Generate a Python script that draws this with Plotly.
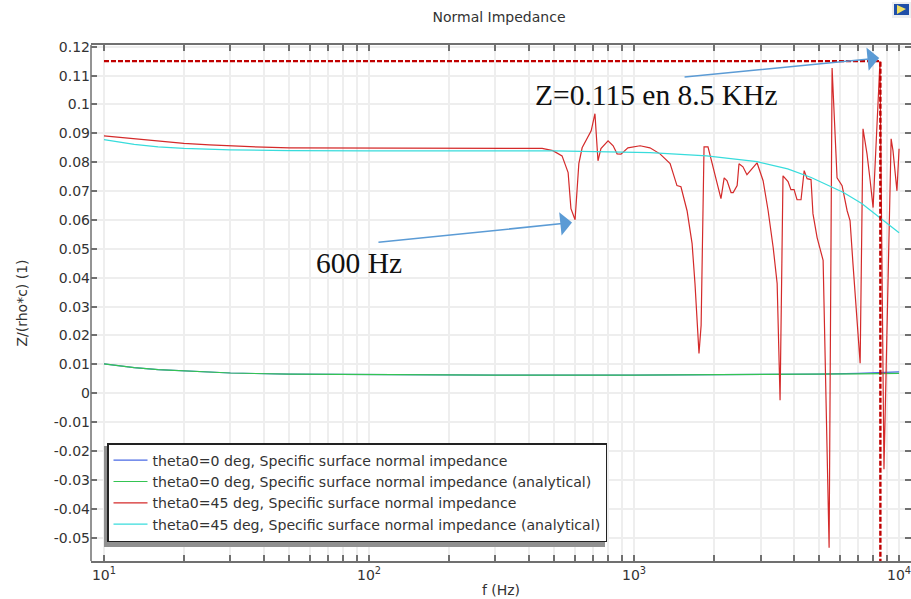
import plotly.graph_objects as go

# ---- data ----
f_red = [10, 13, 16, 20, 25, 30, 40, 50, 70, 100, 150, 200, 300, 400, 450, 494, 535, 564, 578, 599, 619, 637, 665, 689, 712,
         731, 750, 798, 834, 863, 893, 948, 1054, 1148, 1253, 1368, 1452, 1503, 1585, 1656, 1698, 1758, 1791, 1837, 1901,
         1968, 2056, 2128, 2188, 2244, 2323, 2366, 2449, 2489, 2576, 2667, 2911, 3069, 3206, 3350, 3467, 3556, 3648, 3811,
         3908, 4016, 4121, 4266, 4385, 4498, 4653, 4732, 4906, 5169, 5445, 5588, 5834, 6095, 6368, 6531, 6699, 6887, 7130,
         7311, 7568, 7780, 7980, 8472, 8770, 9333, 9484, 9817, 10000]
z_red = [0.0891, 0.0881, 0.0872, 0.0865, 0.086, 0.0856, 0.0852, 0.085, 0.085, 0.085, 0.085, 0.085, 0.085, 0.085, 0.0848, 0.084, 0.0822, 0.0764, 0.0639, 0.0601, 0.0795, 0.085, 0.0885, 0.0909, 0.0968,
         0.0805, 0.0847, 0.0874, 0.0857, 0.0829, 0.0828, 0.085, 0.0857, 0.085, 0.0829, 0.0795, 0.0719, 0.0715, 0.0632, 0.0518, 0.038, 0.0138, 0.0235, 0.0853, 0.0853,
         0.0798, 0.0736, 0.0674, 0.0746, 0.0736, 0.0695, 0.0695, 0.0719, 0.0795, 0.0784, 0.0757, 0.0798, 0.0736, 0.0632, 0.0504, 0.038, -0.0024, 0.0753, 0.0733,
         0.0705, 0.0705, 0.067, 0.067, 0.0771, 0.0743, 0.074, 0.0622, 0.0539, 0.046, -0.0535, 0.1126, 0.0746, 0.0719, 0.0632, 0.0598, 0.0449, 0.0287, 0.0104,
         0.0916, 0.0829, 0.0736, 0.0643, 0.115, -0.0263, 0.0881, 0.084, 0.0701, 0.0847]
f_cyan = [10, 13, 16, 20, 30, 50, 100, 300, 500, 1148, 1880, 2911, 3800, 4660, 6170, 7230, 8470, 10000]
z_cyan = [0.0878, 0.0862, 0.0853, 0.0848, 0.0843, 0.084, 0.0839, 0.0839, 0.0839, 0.0833, 0.0822, 0.0802, 0.0777, 0.0747, 0.0695, 0.0657, 0.0608, 0.0556]
f_low = [10, 13, 16, 20, 30, 50, 100, 300, 1000, 3000, 5000, 7000, 10000]
z_blue = [0.0102, 0.0089, 0.0082, 0.0077, 0.007, 0.0066, 0.0064, 0.0063, 0.0063, 0.0064, 0.0066, 0.0069, 0.0074]
z_green = [0.0102, 0.0089, 0.0082, 0.0077, 0.007, 0.0066, 0.0064, 0.0063, 0.0063, 0.0064, 0.0065, 0.0067, 0.0069]
names = ["theta0=0 deg, Specific surface normal impedance",
         "theta0=0 deg, Specific surface normal impedance (analytical)",
         "theta0=45 deg, Specific surface normal impedance",
         "theta0=45 deg, Specific surface normal impedance (analytical)"]
ref_f = [10, 8500, 8500]
ref_z = [0.115, 0.115, -0.0581]
y_ticks = [0.12, 0.11, 0.1, 0.09, 0.08, 0.07, 0.06, 0.05, 0.04, 0.03, 0.02, 0.01, 0,
           -0.01, -0.02, -0.03, -0.04, -0.05]
y_labels = ["0.12", "0.11", "0.1", "0.09", "0.08", "0.07", "0.06", "0.05", "0.04", "0.03", "0.02", "0.01", "0",
            "-0.01", "-0.02", "-0.03", "-0.04", "-0.05"]
x_major = [10, 100, 1000, 10000]
x_labels = ["10<sup>1</sup>", "10<sup>2</sup>", "10<sup>3</sup>", "10<sup>4</sup>"]
x_minor = [m * d for d in (10, 100, 1000) for m in range(2, 10)]

W, H = 911, 599
L, R, T, B = 91, 911, 45, 561
px = lambda x: (x - L) / (R - L)
py = lambda y: (B - y) / (B - T)
FONT = "DejaVu Sans"
TXT = "#333333"
GRID = "#eeeeee"

fig = go.Figure()
colors = ["#4a6ae4", "#34c452", "#d42a2a", "#38dcdc"]
series = [(f_low, z_blue), (f_low, z_green), (f_red, z_red), (f_cyan, z_cyan)]
for i, ((xs, ys), c, n) in enumerate(zip(series, colors, names)):
    fig.add_trace(go.Scatter(x=xs, y=ys, mode="lines", name=n, legendgroup=f"g{i}",
                             line=dict(color=c, width=1.2)))
fig.add_trace(go.Scatter(x=ref_f, y=ref_z, mode="lines", showlegend=False,
                         line=dict(color="#c00000", width=2.4, dash="5px,2px")))

axis_common = dict(linecolor="#707070", linewidth=1.5, mirror="ticks", ticks="inside",
                   ticklen=6, tickcolor="#707070", tickwidth=1.5, gridcolor=GRID, gridwidth=1.5,
                   zeroline=False, ticklabeloverflow="allow",
                   tickfont=dict(family=FONT, size=14, color=TXT))
fig.update_xaxes(type="log", range=[0.951, 4.045], tickmode="array", tickvals=x_major, ticktext=x_labels,
                 showline=True,
                 title=dict(text="f (Hz)", font=dict(family=FONT, size=14, color=TXT), standoff=4),
                 minor=dict(tickmode="array", tickvals=x_minor, ticks="inside", ticklen=6, tickcolor="#707070",
                            showgrid=True, gridcolor=GRID, gridwidth=1.5),
                 **axis_common)
# the reference has ticks but no spine on the right, so the left spine is a separate line
fig.update_yaxes(range=[-0.0581, 0.1206], tickmode="array", tickvals=y_ticks, ticktext=y_labels,
                 showline=False,
                 title=dict(text="Z/(rho*c) (1)", font=dict(family=FONT, size=14, color=TXT), standoff=22),
                 **axis_common)
fig.add_shape(type="line", xref="paper", yref="paper", x0=0, x1=0, y0=0, y1=1,
              line=dict(color="#707070", width=1.5), layer="above")

arrow = dict(xref="x", yref="y", axref="x", ayref="y", text="", showarrow=True, arrowhead=1,
             arrowsize=2.6, arrowwidth=1.5, arrowcolor="#5b9bd5")
fig.add_annotation(x=2.766, y=0.0591, ax=2.03, ay=0.0522, **arrow)
fig.add_annotation(x=3.925, y=0.1161, ax=3.185, ay=0.1095, **arrow)
serif = dict(family="Liberation Serif", size=29.5, color="#111111")
fig.add_annotation(xref="paper", yref="paper", x=px(533), y=py(95), xanchor="left", yanchor="middle",
                   text="Z=0.115 en 8.5 KHz", showarrow=False, font=serif)
fig.add_annotation(xref="paper", yref="paper", x=px(314), y=py(263), xanchor="left", yanchor="middle",
                   text="600 Hz", showarrow=False, font=serif)

fig.add_shape(type="rect", xref="paper", yref="paper", x0=px(104), x1=px(605), y0=py(547), y1=py(446),
              fillcolor="#909090", line_width=0, layer="above")
# small application icon at the top right
fig.add_shape(type="rect", xref="paper", yref="paper", x0=px(892), x1=px(911), y0=py(18), y1=py(2),
              fillcolor="#eceef0", line_width=0)
fig.add_shape(type="rect", xref="paper", yref="paper", x0=px(894), x1=px(909), y0=py(15), y1=py(4),
              fillcolor="#1f4fa8", line_width=0)
fig.add_shape(type="path", xref="paper", yref="paper",
              path=f"M {px(897)} {py(5)} L {px(906)} {py(9)} L {px(897)} {py(14)} Z",
              fillcolor="#f0e060", line_width=0)

fig.update_layout(
    width=W, height=H, autosize=False, paper_bgcolor="white", plot_bgcolor="white",
    margin=dict(l=L, r=W - R, t=T, b=H - B),
    title=dict(text="Normal Impedance", x=499 / W, xanchor="center", y=1 - 17 / H, yanchor="middle",
               font=dict(family=FONT, size=14, color=TXT)),
    legend=dict(x=px(107), y=py(443), xanchor="left", yanchor="top", bgcolor="white", bordercolor="#222222",
                borderwidth=1.5, font=dict(family=FONT, size=14.1, color=TXT), tracegroupgap=5,
                itemwidth=34, traceorder="normal"),
    showlegend=True,
)
fig.write_html("out.html", config=dict(displayModeBar=False),
               post_script="document.body.style.margin='0';document.body.style.overflow='hidden';")
